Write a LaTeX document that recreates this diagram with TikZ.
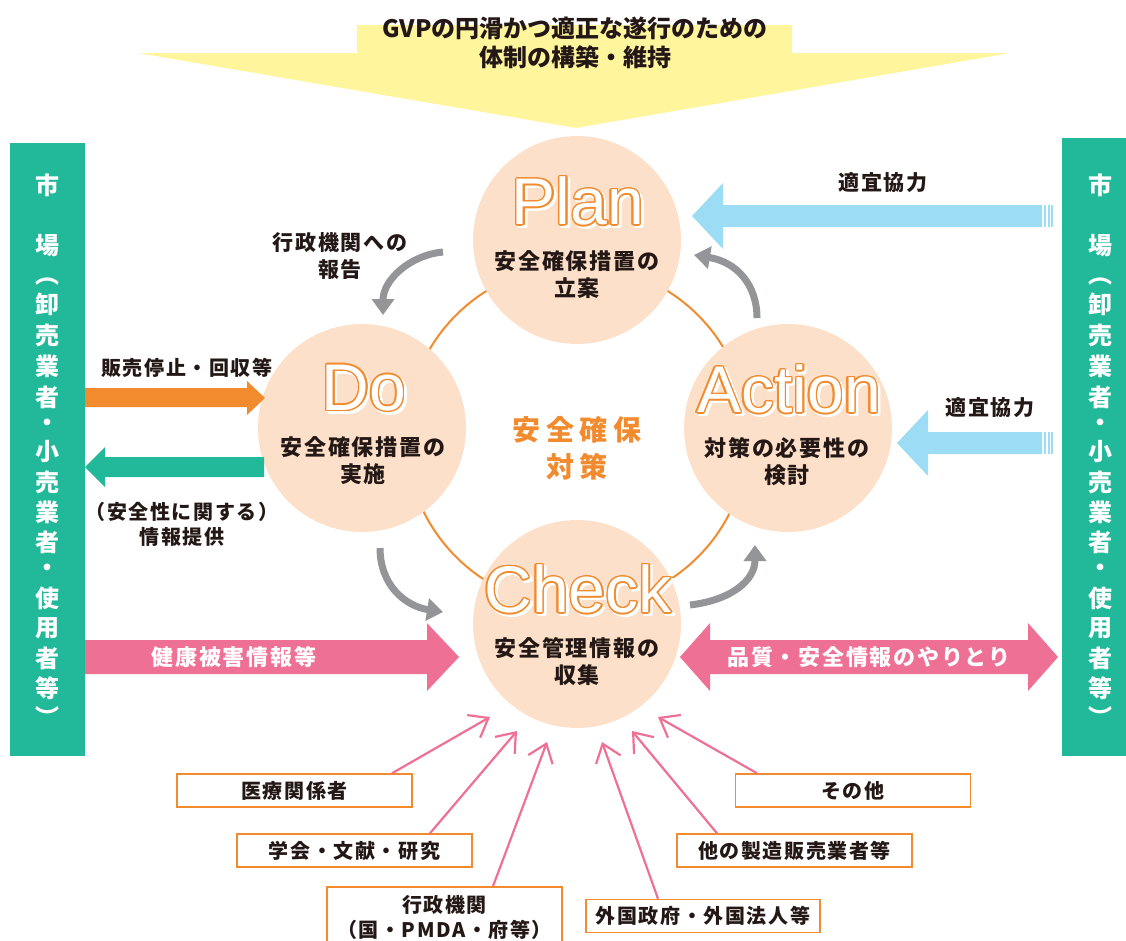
\documentclass[tikz,border=0pt]{standalone}
\usepackage{fontspec}
\setmainfont{Noto Sans CJK JP}
\newfontfamily\jpA{Noto Sans CJK JP}[LetterSpace=8]
\newfontfamily\jpC{Noto Sans CJK JP}[LetterSpace=20]
\newfontfamily\wordf{Liberation Sans}
\usetikzlibrary{arrows.meta,calc}
\definecolor{peach}{HTML}{FDE0C9}
\definecolor{orng}{HTML}{F28A2E}
\definecolor{mteal}{HTML}{22B99A}
\definecolor{lblue}{HTML}{9DDCF5}
\definecolor{pnk}{HTML}{EF7095}
\definecolor{ylw}{HTML}{FFF59D}
\definecolor{gry}{HTML}{939598}
\definecolor{txt}{HTML}{231815}
\newcommand{\pdcaword}[3]{%
  \foreach \a in {0,22.5,...,337.5}{%
    \node[wordst,text=white,xshift={2.5pt+1.6pt*cos(\a)},yshift={-2.5pt+1.6pt*sin(\a)}] (#1s\a) at (#2) {#3};}
  \foreach \a in {0,22.5,...,337.5}{%
    \node[wordst,text=orng,xshift={1.5pt*cos(\a)},yshift={1.5pt*sin(\a)}] (#1o\a) at (#2) {#3};}
  \node[wordst,text=white] (#1) at (#2) {#3};
}
\begin{document}
\begin{tikzpicture}[x=1pt,y=-1pt,
  wordst/.style={font=\wordf\fontsize{66}{66}\selectfont,inner sep=0pt},
  pcirc/.style={circle,fill=peach,minimum size=208pt,inner sep=0pt},
  clbl/.style={font=\jpA\bfseries\fontsize{22}{27}\selectfont,text=txt,align=center,inner sep=0pt},
  lbl/.style={font=\jpA\bfseries\fontsize{20}{25}\selectfont,text=txt,align=center,inner sep=0pt},
  lbls/.style={font=\jpA\bfseries\fontsize{21}{27}\selectfont,text=txt,align=center,inner sep=0pt},
  wlbl/.style={font=\jpA\bfseries\fontsize{22}{26}\selectfont,text=white,inner sep=0pt},
  vt/.style={font=\bfseries\fontsize{24}{24}\selectfont,text=white,inner sep=0pt},
  toptext/.style={font=\bfseries\fontsize{24}{29}\selectfont,text=txt,align=center,inner sep=0pt},
  ctext/.style={font=\jpC\bfseries\fontsize{28}{37}\selectfont,text=orng,align=center,inner sep=0pt},
  box/.style={draw=orng,line width=1.5pt,fill=white,minimum width=235pt,minimum height=33pt,inner sep=0pt,
    font=\jpA\bfseries\fontsize{20}{25}\selectfont,text=txt,align=center},
  garrow/.style={gry,line width=7pt,-{Triangle[length=16pt,width=22pt]}},
  parrow/.style={pnk,line width=2.2pt,-{Straight Barb[length=17pt,width=26pt,line width=2.2pt]}}
]
\useasboundingbox (0,0) rectangle (1126,940);

% top yellow arrow
\fill[ylw] (357,25) -- (792,25) -- (792,53) -- (1010,53) -- (576,128) -- (138,53) -- (357,53) -- cycle;
\node[toptext] (title) at (575,43) {GVPの円滑かつ適正な遂行のための\\体制の構築・維持};

% market bars
\fill[mteal] (10,143) rectangle (85,756);
\fill[mteal] (1062,138) rectangle (1137,756);
\foreach \ch/\yy [count=\i] in {市/185,場/246,︵/282,卸/304,売/335,業/366,者/397,・/425,小/452,売/482,業/512,者/542,・/570,使/598,用/628,者/658,等/688,︶/716}{
  \node[vt] (L\i) at (47,\yy) {\ch};
  \node[vt] (R\i) at (1100,\yy) {\ch};
}

% orange ring
\draw[orng,line width=2pt] (577,436) circle[radius=171];

% circles
\node[pcirc] (plan) at (577,240) {};
\node[pcirc] (do) at (362,428) {};
\node[pcirc] (action) at (788,428) {};
\node[pcirc] (check) at (577,624) {};

% words
\pdcaword{planw}{578,201}{Plan}
\pdcaword{dow}{364,388}{Do}
\pdcaword{actionw}{789,389}{Action}
\pdcaword{checkw}{578,589}{Check}

\node[clbl] (plant) at (577,275) {安全確保措置の\\立案};
\node[clbl] (dot) at (363,461) {安全確保措置の\\実施};
\node[clbl] (actiont) at (787,462) {対策の必要性の\\検討};
\node[clbl] (checkt) at (577,662) {安全管理情報の\\収集};

\node[ctext] (center) at (577,448) {安全確保\\対策};

% gray cycle arrows
\coordinate (g1s) at (443,252); \coordinate (g1e) at (383,315);
\coordinate (g2s) at (380,548); \coordinate (g2e) at (443,612);
\coordinate (g3s) at (690,605); \coordinate (g3e) at (755,545);
\coordinate (g4s) at (757,318); \coordinate (g4e) at (694,255);
\draw[garrow] (g1s) .. controls (410,255) and (383,280) .. (g1e);
\draw[garrow] (g2s) .. controls (380,585) and (405,606) .. (g2e);
\draw[garrow] (g3s) .. controls (732,600) and (755,580) .. (g3e);
\draw[garrow] (g4s) .. controls (757,285) and (737,262) .. (g4e);

\node[lbls] (report) at (340,256) {行政機関への\\報告};

% blue arrows
\fill[lblue] (1042,205) -- (723,205) -- (723,183) -- (692,216) -- (723,249) -- (723,227) -- (1042,227) -- cycle;
\fill[lblue] (1044,205) rectangle (1046,227);
\fill[lblue] (1047.7,205) rectangle (1049.7,227);
\fill[lblue] (1051.4,205) rectangle (1053.4,227);
\node[lbls] (coop1) at (883,183) {適宜協力};
\fill[lblue] (1042,432) -- (928,432) -- (928,410) -- (897,443) -- (928,476) -- (928,454) -- (1042,454) -- cycle;
\fill[lblue] (1044,432) rectangle (1046,454);
\fill[lblue] (1047.7,432) rectangle (1049.7,454);
\fill[lblue] (1051.4,432) rectangle (1053.4,454);
\node[lbls] (coop2) at (990,408) {適宜協力};

% orange & green arrows (left)
\fill[orng] (85,388) -- (247,388) -- (247,381) -- (265,398) -- (247,415) -- (247,407) -- (85,407) -- cycle;
\node[lbl] (stop) at (187,368) {販売停止・回収等};
\fill[mteal] (264,457) -- (105,457) -- (105,447) -- (85,467) -- (105,487) -- (105,477) -- (264,477) -- cycle;
\node[lbl] (info) at (182,524) {（安全性に関する）\\情報提供};

% pink arrows
\fill[pnk] (85,640) -- (427,640) -- (427,623) -- (459,657) -- (427,691) -- (427,674) -- (85,674) -- cycle;
\node[wlbl] (health) at (234,657) {健康被害情報等};
\fill[pnk] (710,640) -- (1028,640) -- (1028,623) -- (1058,657) -- (1028,691) -- (1028,674) -- (710,674) -- (710,691) -- (680,657) -- (710,623) -- cycle;
\node[wlbl] (quality) at (869,657) {品質・安全情報のやりとり};

% bottom boxes
\node[box] (b1) at (294.5,790.5) {医療関係者};
\node[box] (b2) at (354.5,850.5) {学会・文献・研究};
\node[box,minimum height=60pt] (b3) at (444.5,917) {行政機関\\（国・PMDA・府等）};
\node[box] (b4) at (853,790.5) {その他};
\node[box] (b5) at (794.5,850.5) {他の製造販売業者等};
\node[box,minimum width=234pt] (b6) at (703,916) {外国政府・外国法人等};

\coordinate (t1) at (490,717);
\coordinate (t2) at (517,731);
\coordinate (t3) at (547,742);
\coordinate (t4) at (602,742);
\coordinate (t5) at (632,731);
\coordinate (t6) at (658,717);
\draw[parrow] ([xshift=97.5pt]b1.north) -- (t1);
\draw[parrow] ([xshift=75.5pt]b2.north) -- (t2);
\draw[parrow] ([xshift=48.5pt]b3.north) -- (t3);
\draw[parrow] ([xshift=-45pt]b6.north) -- (t4);
\draw[parrow] ([xshift=-77.5pt]b5.north) -- (t5);
\draw[parrow] ([xshift=-96pt]b4.north) -- (t6);
\end{tikzpicture}
\end{document}
